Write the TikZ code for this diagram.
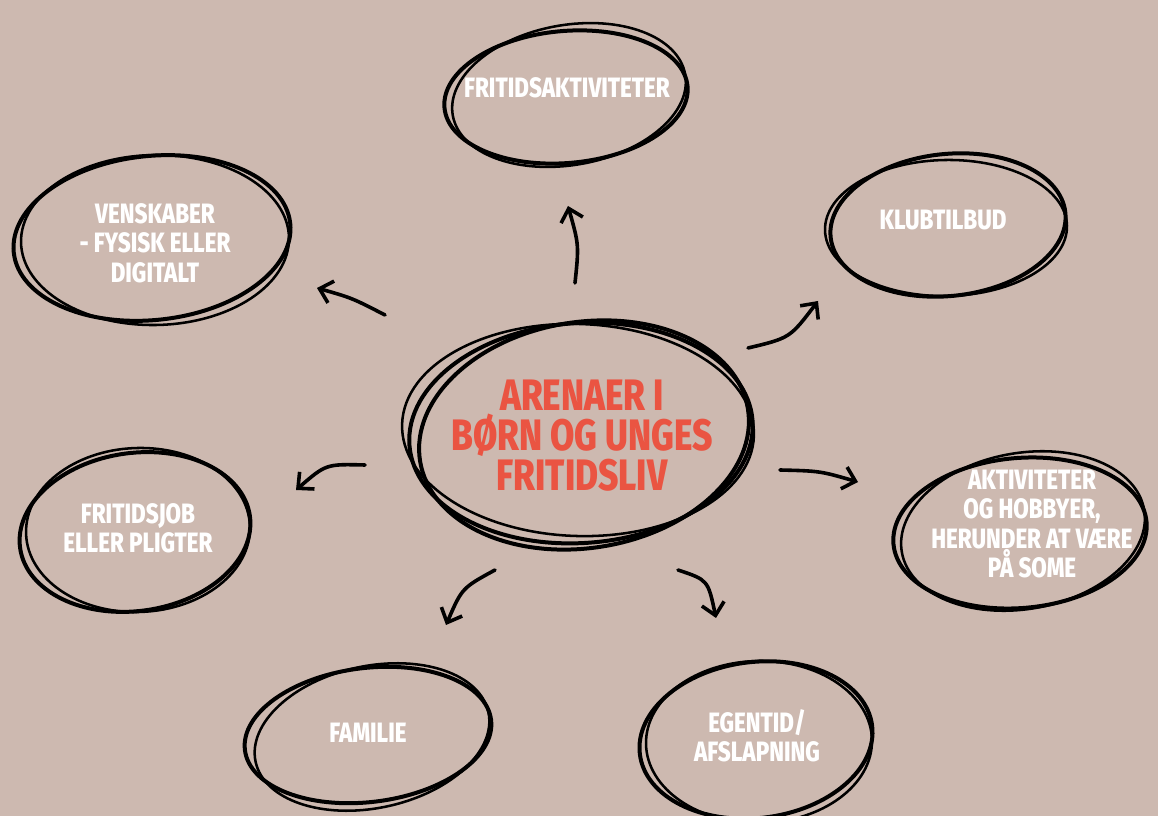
\documentclass[tikz,border=0pt]{standalone}
\usepackage{fontspec}
\newfontfamily\handfont[FakeStretch=0.8,BoldFont={* ExtraBold}]{Fira Sans}
\usetikzlibrary{arrows.meta,calc}
\definecolor{bgrose}{RGB}{205,185,176}
\definecolor{hubred}{RGB}{234,84,66}

\begin{document}
\begin{tikzpicture}[x=0.75pt,y=0.75pt,yscale=-1,xscale=1,
  sketch/.style={line width=3pt,black},
  thinsketch/.style={line width=1.9pt,black},
  blurb/.style={text=white,align=center,inner sep=0.75pt,font=\handfont\bfseries\fontsize{21}{22}\selectfont},
  hub/.style={text=hubred,align=center,inner sep=0.75pt,font=\handfont\bfseries\fontsize{33}{30}\selectfont},
  pointer/.style={line width=2.7pt,line cap=round,-{Straight Barb[length=9pt,width=17pt,line width=2.7pt]}}]
%set diagram size
\useasboundingbox (0,0) rectangle (1158,816);
\fill[bgrose] (0,0) rectangle (1158,816);

% Text Node
\node[hub] (c) at (582,436) {ARENAER I\\BØRN OG UNGES\\FRITIDSLIV};
% Text Node
\node[blurb] (t) at (567,88) {FRITIDSAKTIVITETER};
% Text Node
\node[blurb] (k) at (943,220) {KLUBTILBUD};
% Text Node
\node[blurb] (a) at (1032,524) {AKTIVITETER\\OG HOBBYER,\\HERUNDER AT VÆRE\\PÅ SOME};
% Text Node
\node[blurb] (e) at (757,736) {EGENTID/\\AFSLAPNING};
% Text Node
\node[blurb] (f) at (368,733) {FAMILIE};
% Text Node
\node[blurb] (j) at (138,528) {FRITIDSJOB\\ELLER PLIGTER};
% Text Node
\node[blurb] (v) at (155,243) {VENSKABER\\- FYSISK ELLER\\DIGITALT};

%Shape: Ellipse (centre)
\draw[sketch] ($(c)+(-1,-3)$) ellipse [x radius=172,y radius=110,rotate=-4];
\draw[sketch] ($(c)+(2,-1)$) ellipse [x radius=166,y radius=113,rotate=-9];
\draw[thinsketch] ($(c)+(-4,-6)$) ellipse [x radius=176,y radius=106,rotate=2];
%Shape: Ellipse (fritidsaktiviteter)
\draw[sketch] ($(t)+(-1,9)$) ellipse [x radius=122,y radius=66,rotate=-5];
\draw[thinsketch] ($(t)+(2,7)$) ellipse [x radius=118,y radius=70,rotate=-10];
%Shape: Ellipse (klubtilbud)
\draw[sketch] ($(k)+(5,5)$) ellipse [x radius=118,y radius=71,rotate=-6];
\draw[thinsketch] ($(k)+(3,8)$) ellipse [x radius=121,y radius=68,rotate=-1];
%Shape: Ellipse (aktiviteter)
\draw[sketch] ($(a)+(-12,9)$) ellipse [x radius=127,y radius=75,rotate=-5];
\draw[thinsketch] ($(a)+(-9,7)$) ellipse [x radius=123,y radius=78,rotate=-10];
%Shape: Ellipse (egentid)
\draw[sketch] ($(e)+(-1,4)$) ellipse [x radius=117,y radius=78,rotate=-7];
\draw[thinsketch] ($(e)+(2,6)$) ellipse [x radius=113,y radius=81,rotate=-1];
%Shape: Ellipse (familie)
\draw[sketch] ($(f)+(0,2)$) ellipse [x radius=124,y radius=67,rotate=-7];
\draw[thinsketch] ($(f)+(4,4)$) ellipse [x radius=119,y radius=71,rotate=-12];
%Shape: Ellipse (fritidsjob)
\draw[sketch] ($(j)+(-3,4)$) ellipse [x radius=116,y radius=79,rotate=-8];
\draw[thinsketch] ($(j)+(0,2)$) ellipse [x radius=112,y radius=82,rotate=-2];
%Shape: Ellipse (venskaber)
\draw[sketch] ($(v)+(-3,-5)$) ellipse [x radius=139,y radius=82,rotate=-6];
\draw[thinsketch] ($(v)+(0,-3)$) ellipse [x radius=134,y radius=85,rotate=-1];

%Arrow ends
\coordinate (t-tail) at (575,283);
\coordinate (t-head) at (568,206);
\coordinate (k-tail) at (748,348);
\coordinate (k-head) at (818,301);
\coordinate (a-tail) at (780,470);
\coordinate (a-head) at (858,482);
\coordinate (e-tail) at (678,570);
\coordinate (e-head) at (716,618);
\coordinate (f-tail) at (495,570);
\coordinate (f-head) at (446,625);
\coordinate (j-tail) at (365,465);
\coordinate (j-head) at (296,490);
\coordinate (v-tail) at (385,315);
\coordinate (v-head) at (317,288);

%Arrows
\draw[pointer] (t-tail) .. controls (579,245) .. (t-head);
\draw[pointer] (k-tail) .. controls (790,338) .. (k-head);
\draw[pointer] (a-tail) .. controls (820,471) .. (a-head);
\draw[pointer] (e-tail) .. controls (708,580) .. (e-head);
\draw[pointer] (f-tail) .. controls (462,588) .. (f-head);
\draw[pointer] (j-tail) .. controls (326,464) .. (j-head);
\draw[pointer] (v-tail) .. controls (352,298) .. (v-head);

\end{tikzpicture}
\end{document}
